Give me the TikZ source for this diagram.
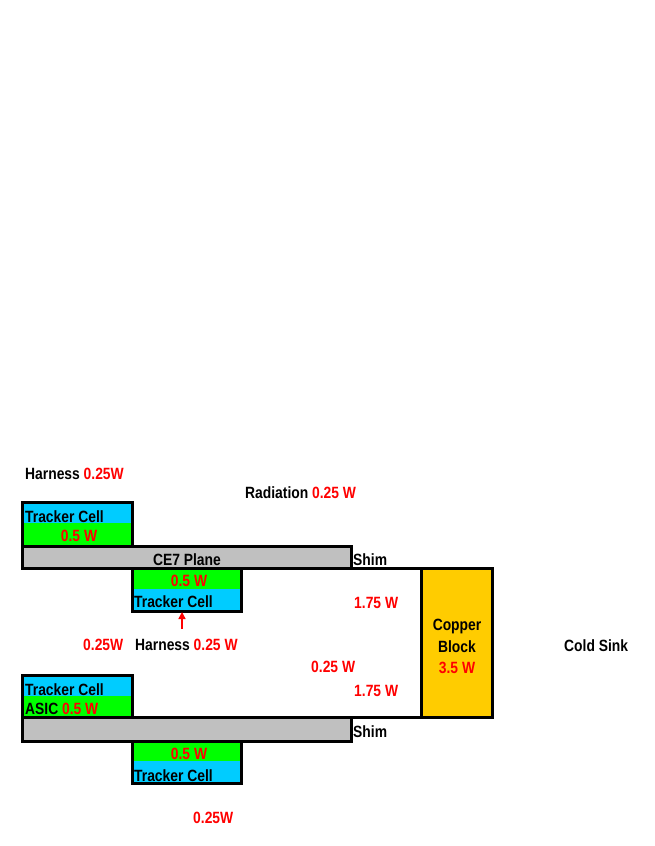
\documentclass[tikz,border=0pt]{standalone}
\usepackage{fontspec}
\setmainfont{Liberation Sans}[FakeStretch=0.85]
\usetikzlibrary{arrows.meta}
\definecolor{cellblue}{HTML}{00CCFF}
\definecolor{cellgreen}{HTML}{00FF00}
\definecolor{planegray}{HTML}{C0C0C0}
\definecolor{copper}{HTML}{FFCC00}
\definecolor{wred}{HTML}{FF0000}
\tikzset{
  lbl/.style={inner sep=0pt, anchor=base west, font=\fontsize{16.3}{19}\selectfont\bfseries},
  clbl/.style={inner sep=0pt, anchor=base, font=\fontsize{16.3}{19}\selectfont\bfseries},
  rlbl/.style={lbl, text=wred},
  crlbl/.style={clbl, text=wred},
  boxline/.style={draw=black, line width=3pt},
}
\newcommand{\rw}[1]{\textcolor{wred}{#1}}
\begin{document}
\begin{tikzpicture}[x=1pt,y=-1pt]
\useasboundingbox (0,0) rectangle (654,846);
% fills
\fill[cellblue] (22,502) rectangle (132,523);
\fill[cellgreen] (22,523) rectangle (132,546);
\fill[planegray] (22,546) rectangle (351,568);
\fill[cellgreen] (132,568) rectangle (241,589);
\fill[cellblue] (132,589) rectangle (241,611);
\fill[cellblue] (22,675) rectangle (132,696);
\fill[cellgreen] (22,696) rectangle (132,717.5);
\fill[planegray] (22,717.5) rectangle (351,741);
\fill[cellgreen] (132,741) rectangle (241,761);
\fill[cellblue] (132,761) rectangle (241,783);
\fill[copper] (421,568) rectangle (492,717.5);
% outlines
\draw[boxline] (22,502) rectangle (132,546);
\draw[boxline] (22,546) rectangle (351,568);
\draw[boxline] (132,568) rectangle (241,611);
\draw[boxline] (22,675) rectangle (132,717.5);
\draw[boxline] (22,717.5) rectangle (351,741);
\draw[boxline] (132,741) rectangle (241,783);
\draw[boxline] (421,568) rectangle (492,717.5);
\draw[boxline] (351,568) -- (421,568);
\draw[boxline] (351,717.5) -- (421,717.5);
% arrow
\coordinate (cellBbot) at (182,612);
\coordinate (arrowfoot) at (182,629);
\draw[wred, line width=1.6pt, -{Triangle[length=7pt,width=7pt]}] (arrowfoot) -- (cellBbot);
% labels
\node[lbl] (h1) at (25,479) {Harness \rw{0.25W}};
\node[lbl] (rad) at (245,498) {Radiation \rw{0.25 W}};
\node[lbl] (tcA) at (25,522) {Tracker Cell};
\node[crlbl] (pA) at (79,541) {0.5 W};
\node[clbl] (ce7) at (187,565) {CE7 Plane};
\node[lbl] (shim1) at (353,565) {Shim};
\node[crlbl] (pB) at (189,586) {0.5 W};
\node[lbl] (tcB) at (134,607) {Tracker Cell};
\node[rlbl] (w1) at (354,608) {1.75 W};
\node[rlbl] (w2) at (83,650) {0.25W};
\node[lbl] (h2) at (135,650) {Harness \rw{0.25 W}};
\node[clbl] (cu1) at (457,630) {Copper};
\node[clbl] (cu2) at (457,652) {Block};
\node[crlbl] (cu3) at (457,673) {3.5 W};
\node[lbl] (cold) at (564,651) {Cold Sink};
\node[rlbl] (w3) at (311,672) {0.25 W};
\node[rlbl] (w4) at (354,696) {1.75 W};
\node[lbl] (tcC) at (25,695.5) {Tracker Cell};
\node[lbl] (asic) at (25,714) {ASIC \rw{0.5 W}};
\node[lbl] (shim2) at (353,737) {Shim};
\node[crlbl] (pD) at (189,759) {0.5 W};
\node[lbl] (tcD) at (134,781) {Tracker Cell};
\node[rlbl] (w5) at (193,823) {0.25W};
\end{tikzpicture}
\end{document}
